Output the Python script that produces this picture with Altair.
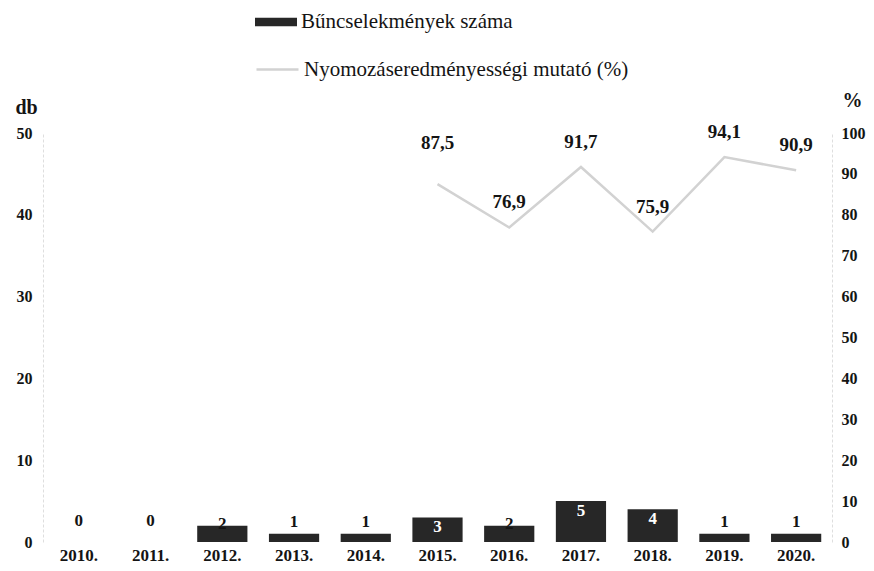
import altair as alt
import pandas as pd

years = ["2010.", "2011.", "2012.", "2013.", "2014.", "2015.", "2016.", "2017.", "2018.", "2019.", "2020."]
counts = [0, 0, 2, 1, 1, 3, 2, 5, 4, 1, 1]
pct = [None, None, None, None, None, 87.5, 76.9, 91.7, 75.9, 94.1, 90.9]

series_bar = "Bűncselekmények száma"
series_line = "Nyomozáseredményességi mutató (%)"

df = pd.DataFrame({"year": years, "count": counts, "pct": pct})

FONT = "Liberation Serif"
BAR = "#272727"
LINE = "#d2d2d2"
TXT = "#141414"
AXC = "#dedede"

base = alt.Chart(df).transform_calculate(
    s1=f"'{series_bar}'",
    s2=f"'{series_line}'",
    clbl="format(datum.count, 'd')",
    plbl="datum.pct == null ? '' : replace(format(datum.pct, '.1f'), '.', ',')",
)

x = alt.X(
    "year:N",
    sort=years,
    scale=alt.Scale(paddingInner=0.3, paddingOuter=0.15),
    axis=alt.Axis(
        title=None, labelAngle=0, domain=False, ticks=False,
        labelFont=FONT, labelFontWeight="bold", labelFontSize=17,
        labelColor=TXT, labelPadding=5,
    ),
)

y_left = alt.Y(
    "count:Q",
    scale=alt.Scale(domain=[0, 50]),
    axis=alt.Axis(
        values=[0, 10, 20, 30, 40, 50], grid=False, ticks=False,
        domainColor=AXC, domainDash=[3, 2],
        labelFont=FONT, labelFontWeight="bold", labelFontSize=16,
        labelColor=TXT, labelPadding=11,
        title="db", titleAngle=0, titleX=-17, titleY=-26,
        titleAlign="center", titleBaseline="middle",
        titleFont=FONT, titleFontSize=20, titleFontWeight="bold", titleColor=TXT,
    ),
)

y_right = alt.Y(
    "pct:Q",
    scale=alt.Scale(domain=[0, 100]),
    axis=alt.Axis(
        orient="right", values=list(range(0, 101, 10)), grid=False, ticks=False,
        domainColor=AXC, domainDash=[3, 2],
        labelFont=FONT, labelFontWeight="bold", labelFontSize=16,
        labelColor=TXT, labelPadding=9,
        title="%", titleAngle=0, titleX=20, titleY=-33,
        titleAlign="center", titleBaseline="middle",
        titleFont=FONT, titleFontSize=20, titleFontWeight="bold", titleColor=TXT,
    ),
)

bars = base.mark_bar().encode(
    x=x,
    y=y_left,
    color=alt.Color(
        "s1:N",
        scale=alt.Scale(range=[BAR]),
        legend=alt.Legend(
            title=None, orient="none", legendX=212, legendY=-132,
            symbolType="M-1,-0.2H1V0.2H-1Z", symbolSize=1764, symbolStrokeWidth=0,
            labelFont=FONT, labelFontSize=21, labelColor=TXT, labelOffset=4,
            labelLimit=600,
        ),
    ),
)


def count_labels(cond, dy, color):
    return base.transform_filter(cond).mark_text(
        font=FONT, fontWeight="bold", fontSize=17, color=color,
        baseline="middle", dy=dy,
    ).encode(x=x, y=y_left, text="clbl:N")


lab0 = count_labels("datum.count == 0", -21, TXT)
lab1 = count_labels("datum.count == 1", -12, TXT)
lab2 = count_labels("datum.count == 2", -2, TXT)
lab3 = count_labels("datum.count >= 3", 10, "#ffffff")

left = alt.layer(bars, lab0, lab1, lab2, lab3)

line = base.transform_filter("datum.pct != null").mark_line(strokeWidth=2.5).encode(
    x=x,
    y=y_right,
    stroke=alt.Stroke(
        "s2:N",
        scale=alt.Scale(range=[LINE]),
        legend=alt.Legend(
            title=None, orient="none", legendX=212, legendY=-86,
            symbolType="stroke", symbolSize=1764, symbolStrokeWidth=2.5,
            labelFont=FONT, labelFontSize=21, labelColor=TXT, labelOffset=4,
            labelLimit=600,
        ),
    ),
)


def pct_labels(cond, dy):
    return base.transform_filter(cond).mark_text(
        font=FONT, fontWeight="bold", fontSize=19, color=TXT,
        baseline="middle", dy=dy,
    ).encode(x=x, y=y_right, text="plbl:N")


plab_a = pct_labels("datum.pct != null && datum.year == '2015.'", -41)
plab_b = pct_labels("datum.pct != null && datum.year != '2015.'", -25)

right = alt.layer(line, plab_a, plab_b)

chart = alt.layer(left, right).resolve_scale(
    y="independent", color="independent", stroke="independent"
).properties(
    width=789,
    height=409,
    padding={"left": 35, "top": 125, "right": 34, "bottom": 21},
    autosize=alt.AutoSizeParams(type="none"),
).configure_view(stroke=None)

chart.save("out.html", embed_options={"renderer": "svg", "actions": False})
